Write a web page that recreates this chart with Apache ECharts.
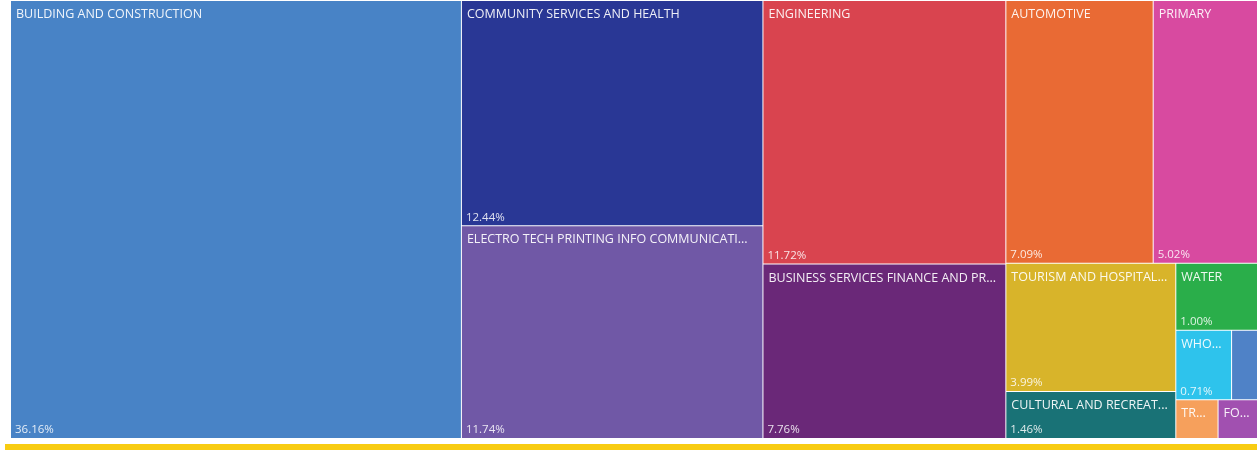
<!DOCTYPE html>
<html>
<head>
<meta charset="utf-8">
<script src="https://cdn.jsdelivr.net/npm/echarts@6/dist/echarts.min.js"></script>
<style>
  html, body { margin: 0; padding: 0; background: #ffffff; }
  #chart { width: 1257px; height: 450px; }
</style>
</head>
<body>
<div id="chart"></div>
<script>
// Share of enrolments by industry group (percent)
const industries = [
  'BUILDING AND CONSTRUCTION',
  'COMMUNITY SERVICES AND HEALTH',
  'ELECTRO TECH PRINTING INFO COMMUNICATIONS',
  'ENGINEERING',
  'BUSINESS SERVICES FINANCE AND PROPERTY',
  'AUTOMOTIVE',
  'PRIMARY',
  'TOURISM AND HOSPITALITY',
  'CULTURAL AND RECREATION',
  'WATER',
  'WHOLESALE RETAIL AND PERSONAL SERVICES',
  'MINING',
  'TRANSPORT AND STORAGE',
  'FOOD PROCESSING'
];
const shares = [36.16, 12.44, 11.74, 11.72, 7.76, 7.09, 5.02, 3.99, 1.46, 1.00, 0.71, 0.33, 0.30, 0.28];
const palette = [
  '#4883c6', '#293795', '#7058a6', '#d9444f', '#6a2878', '#e96a34', '#d84aa0',
  '#d8b42a', '#197276', '#2aae4a', '#2ec3ec', '#4f82c7', '#f6a05c', '#a150b0'
];
// cells too narrow to carry a name
const unnamed = ['MINING'];

const chart = echarts.init(document.getElementById('chart'), null, { renderer: 'canvas' });

const box = { left: 11, top: 1, width: 1246, height: 437 };
const fontFamily = '"Segoe UI", "Open Sans", "Noto Sans", sans-serif';

function baseSeries(extra) {
  return Object.assign({
    type: 'treemap',
    left: box.left, top: box.top, width: box.width, height: box.height,
    squareRatio: 1.611,
    roam: false,
    nodeClick: false,
    breadcrumb: { show: false },
    levels: [{ itemStyle: { borderWidth: 0, gapWidth: 1 } }],
    upperLabel: { show: false }
  }, extra);
}

chart.setOption({
  animation: false,
  backgroundColor: '#ffffff',
  graphic: [{
    type: 'rect',
    left: 5, top: 444,
    shape: { width: 1252, height: 6 },
    style: { fill: '#f8cc12' },
    silent: true
  }],
  series: [
    // coloured cells with the industry names
    baseSeries({
      data: industries.map((name, i) => ({
        name: name,
        value: shares[i],
        itemStyle: { color: palette[i] },
        label: { show: unnamed.indexOf(name) < 0 }
      })),
      label: {
        show: true,
        position: 'insideTopLeft',
        padding: [7, 4, 0, 5],
        color: 'rgba(255,255,255,0.92)',
        fontFamily: fontFamily,
        fontSize: 12.5,
        overflow: 'truncate',
        ellipsis: '...',
        formatter: '{b}'
      }
    }),
    // transparent overlay carrying the percentage in the bottom-left corner
    baseSeries({
      silent: true,
      data: industries.map((name, i) => ({
        name: name,
        value: shares[i],
        itemStyle: { color: 'rgba(0,0,0,0)' },
        label: { show: shares[i] >= 0.5 }
      })),
      label: {
        show: true,
        position: 'insideBottomLeft',
        padding: [0, 5, 2, 4],
        color: 'rgba(255,255,255,0.85)',
        fontFamily: fontFamily,
        fontSize: 11.5,
        formatter: (p) => p.value.toFixed(2) + '%'
      }
    })
  ]
});
</script>
</body>
</html>
